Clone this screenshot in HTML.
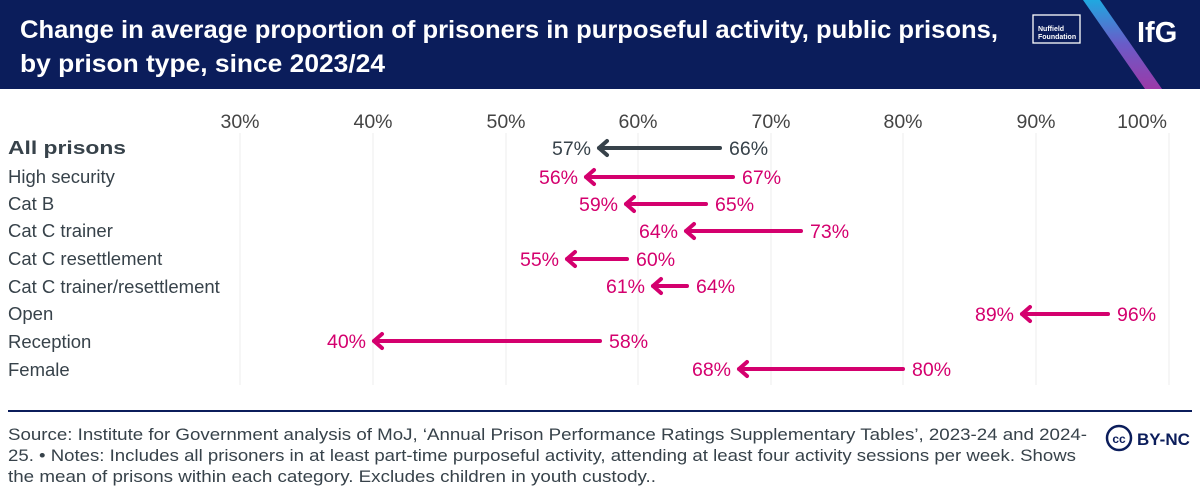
<!DOCTYPE html>
<html><head><style>
body{margin:0;width:1200px;height:497px;background:#fff;font-family:"Liberation Sans",sans-serif;overflow:hidden}
</style></head><body>
<svg width="1200" height="497" xmlns="http://www.w3.org/2000/svg" font-family="Liberation Sans, sans-serif">
<defs><linearGradient id="g" x1="0" y1="0" x2="0" y2="1"><stop offset="0" stop-color="#1fa8e0"/><stop offset="0.5" stop-color="#6a5bc8"/><stop offset="1" stop-color="#9b3aa8"/></linearGradient></defs>
<rect x="0" y="0" width="1200" height="89" fill="#0b1d5b"/>
<polygon points="1083,0 1100,0 1162,89 1145,89" fill="url(#g)"/>
<text x="20" y="38" fill="#fff" font-size="25" font-weight="bold" textLength="978" lengthAdjust="spacingAndGlyphs">Change in average proportion of prisoners in purposeful activity, public prisons,</text>
<text x="20" y="72" fill="#fff" font-size="25" font-weight="bold" textLength="365" lengthAdjust="spacingAndGlyphs">by prison type, since 2023/24</text>
<rect x="1033" y="15" width="47" height="28" fill="none" stroke="#fff" stroke-width="1.3"/>
<text x="1038" y="31" fill="#fff" font-size="7" font-weight="bold">Nuffield</text>
<text x="1038" y="39" fill="#fff" font-size="7" font-weight="bold">Foundation</text>
<text x="1137" y="42" fill="#fff" font-size="29" font-weight="bold">IfG</text>
<g stroke="#ececec" stroke-width="1">
<line x1="240" y1="133" x2="240" y2="385"/><line x1="373" y1="133" x2="373" y2="385"/><line x1="506" y1="133" x2="506" y2="385"/><line x1="638" y1="133" x2="638" y2="385"/><line x1="771" y1="133" x2="771" y2="385"/><line x1="903" y1="133" x2="903" y2="385"/><line x1="1036" y1="133" x2="1036" y2="385"/><line x1="1169" y1="133" x2="1169" y2="385"/>
</g>
<g font-size="19.5" fill="#444" text-anchor="middle">
<text x="240" y="128">30%</text><text x="373" y="128">40%</text><text x="506" y="128">50%</text><text x="638" y="128">60%</text><text x="771" y="128">70%</text><text x="903" y="128">80%</text><text x="1036" y="128">90%</text><text x="1142" y="128">100%</text>
</g>
<g font-size="18.5" fill="#37424a">
<text x="8" y="154" font-weight="bold" textLength="118" lengthAdjust="spacingAndGlyphs">All prisons</text>
<text x="8" y="183">High security</text><text x="8" y="210">Cat B</text><text x="8" y="237">Cat C trainer</text><text x="8" y="265">Cat C resettlement</text><text x="8" y="293">Cat C trainer/resettlement</text><text x="8" y="320">Open</text><text x="8" y="348">Reception</text><text x="8" y="376">Female</text>
</g>
<g font-size="19.5">
<g stroke="#37424a" fill="none" stroke-width="4" stroke-linecap="round" stroke-linejoin="round"><line x1="720" y1="148" x2="599" y2="148"/><polyline points="607,141 599,148 607,155"/></g>
<text x="729" y="155" fill="#37424a">66%</text><text x="591" y="155" fill="#37424a" text-anchor="end">57%</text>
<g stroke="#d4006e" fill="none" stroke-width="4" stroke-linecap="round" stroke-linejoin="round">
<line x1="733" y1="177" x2="586" y2="177"/><polyline points="594,170 586,177 594,184"/>
<line x1="706" y1="204" x2="626" y2="204"/><polyline points="634,197 626,204 634,211"/>
<line x1="801" y1="231" x2="686" y2="231"/><polyline points="694,224 686,231 694,238"/>
<line x1="627" y1="259" x2="567" y2="259"/><polyline points="575,252 567,259 575,266"/>
<line x1="687" y1="286" x2="653" y2="286"/><polyline points="661,279 653,286 661,293"/>
<line x1="1108" y1="314" x2="1022" y2="314"/><polyline points="1030,307 1022,314 1030,321"/>
<line x1="600" y1="341" x2="374" y2="341"/><polyline points="382,334 374,341 382,348"/>
<line x1="903" y1="369" x2="739" y2="369"/><polyline points="747,362 739,369 747,376"/>
</g>
<g fill="#d4006e">
<text x="742" y="184">67%</text><text x="578" y="184" text-anchor="end">56%</text>
<text x="715" y="211">65%</text><text x="618" y="211" text-anchor="end">59%</text>
<text x="810" y="238">73%</text><text x="678" y="238" text-anchor="end">64%</text>
<text x="636" y="266">60%</text><text x="559" y="266" text-anchor="end">55%</text>
<text x="696" y="293">64%</text><text x="645" y="293" text-anchor="end">61%</text>
<text x="1117" y="321">96%</text><text x="1014" y="321" text-anchor="end">89%</text>
<text x="609" y="348">58%</text><text x="366" y="348" text-anchor="end">40%</text>
<text x="912" y="376">80%</text><text x="731" y="376" text-anchor="end">68%</text>
</g>
</g>
<line x1="8" y1="411" x2="1192" y2="411" stroke="#0b1d5b" stroke-width="2"/>
<g font-size="17" fill="#37424a">
<text x="8" y="440" textLength="1079" lengthAdjust="spacingAndGlyphs">Source: Institute for Government analysis of MoJ, ‘Annual Prison Performance Ratings Supplementary Tables’, 2023-24 and 2024-</text>
<text x="8" y="461" textLength="1068" lengthAdjust="spacingAndGlyphs">25. • Notes: Includes all prisoners in at least part-time purposeful activity, attending at least four activity sessions per week. Shows</text>
<text x="8" y="482" textLength="648" lengthAdjust="spacingAndGlyphs">the mean of prisons within each category. Excludes children in youth custody..</text>
</g>
<circle cx="1119" cy="438" r="12" fill="none" stroke="#0b1d5b" stroke-width="2.5"/>
<text x="1119" y="443" font-size="12" font-weight="bold" fill="#0b1d5b" text-anchor="middle">cc</text>
<text x="1137" y="445" font-size="17" font-weight="bold" fill="#0b1d5b">BY-NC</text>
</svg>
</body></html>
